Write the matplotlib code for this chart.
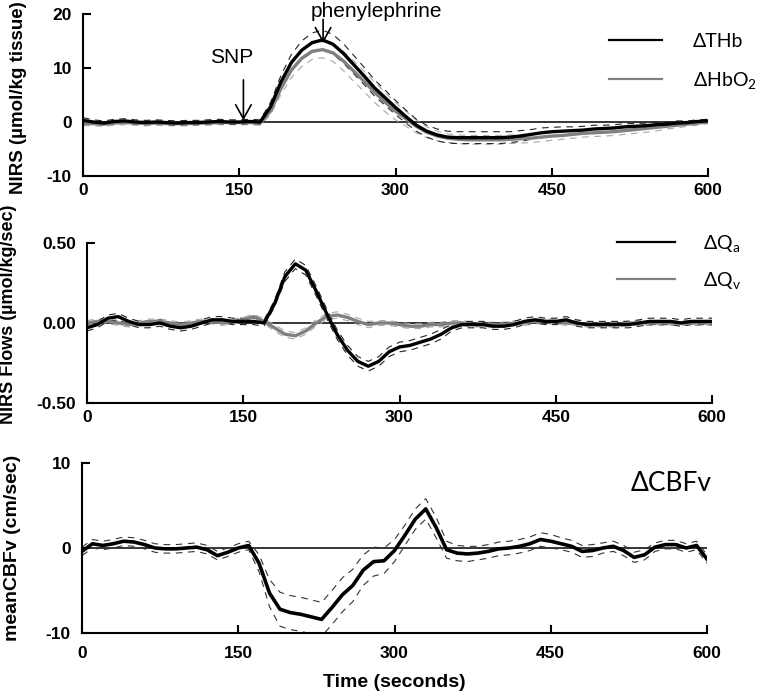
import matplotlib
matplotlib.use("Agg")
import matplotlib.pyplot as plt
import numpy as np

plt.rcParams['font.family'] = ['Liberation Sans', 'DejaVu Sans']
plt.rcParams['axes.unicode_minus'] = False
plt.rcParams['mathtext.default'] = 'regular'

# time axis (seconds), one value every 10 s
time = np.arange(0, 601, 10)

# NIRS: change in total haemoglobin and oxyhaemoglobin
thb = [0.3, 0.0, -0.2, 0.1, 0.2, 0.0, -0.1, 0.0, -0.1, -0.2,
       -0.1, -0.1, 0.0, 0.1, 0.0, 0.0, 0.1, 0.0, 2.8, 7.4,
       11.0, 13.3, 14.7, 15.2, 14.4, 12.7, 10.6, 8.5, 6.3, 4.5,
       2.7, 1.0, -0.6, -1.7, -2.4, -2.8, -2.9, -2.9, -2.9, -2.9,
       -2.9, -2.8, -2.6, -2.3, -2.0, -1.8, -1.7, -1.6, -1.5, -1.3,
       -1.2, -1.1, -0.9, -0.8, -0.7, -0.5, -0.4, -0.2, -0.1, 0.1,
       0.2]
thb_se = [0.5, 0.4, 0.4, 0.4, 0.4, 0.4, 0.4, 0.4, 0.4, 0.4,
          0.4, 0.4, 0.4, 0.4, 0.4, 0.4, 0.4, 0.4, 0.8, 1.2,
          1.5, 1.7, 1.8, 1.8, 1.8, 1.8, 1.7, 1.6, 1.5, 1.4,
          1.3, 1.2, 1.1, 1.1, 1.1, 1.1, 1.1, 1.1, 1.1, 1.1,
          1.1, 1.0, 1.0, 0.9, 0.9, 0.8, 0.8, 0.7, 0.7, 0.7,
          0.6, 0.6, 0.6, 0.5, 0.5, 0.5, 0.4, 0.4, 0.3, 0.3,
          0.3]
hbo2 = [-0.3, -0.3, -0.4, -0.2, -0.1, -0.2, -0.3, -0.2, -0.3, -0.3,
        -0.3, -0.2, -0.2, -0.1, -0.1, -0.1, -0.1, -0.2, 2.0, 6.2,
        9.6, 11.8, 13.1, 13.4, 12.8, 11.3, 9.4, 7.5, 5.5, 3.7,
        2.0, 0.6, -0.8, -1.9, -2.6, -3.0, -3.2, -3.3, -3.3, -3.3,
        -3.3, -3.2, -3.1, -3.0, -2.8, -2.6, -2.5, -2.3, -2.1, -2.0,
        -1.9, -1.8, -1.6, -1.4, -1.2, -1.0, -0.8, -0.6, -0.4, -0.2,
        0.0]
hbo2_se = [0.4, 0.4, 0.4, 0.4, 0.4, 0.4, 0.4, 0.4, 0.4, 0.4,
           0.4, 0.4, 0.4, 0.4, 0.4, 0.4, 0.4, 0.4, 0.7, 1.1,
           1.4, 1.5, 1.5, 1.5, 1.6, 1.8, 1.9, 1.9, 1.9, 1.8,
           1.6, 1.4, 1.2, 1.0, 0.9, 0.8, 0.8, 0.8, 0.8, 0.8,
           0.8, 0.8, 0.8, 0.8, 0.8, 0.8, 0.7, 0.7, 0.7, 0.7,
           0.7, 0.7, 0.7, 0.7, 0.7, 0.7, 0.5, 0.5, 0.4, 0.4,
           0.3]

# NIRS flows: arterial and venous
qa = [-0.03, -0.01, 0.03, 0.04, 0.01, -0.01, -0.01, 0.00, -0.02, -0.03,
      -0.02, 0.00, 0.02, 0.02, 0.01, 0.01, 0.01, 0.00, 0.12, 0.29,
      0.37, 0.33, 0.20, 0.06, -0.07, -0.17, -0.24, -0.27, -0.24, -0.18,
      -0.15, -0.14, -0.12, -0.10, -0.07, -0.03, -0.01, -0.01, -0.01, -0.02,
      -0.02, -0.01, 0.01, 0.02, 0.01, 0.01, 0.02, 0.00, -0.01, -0.01,
      -0.01, -0.01, -0.01, 0.00, 0.01, 0.01, 0.01, 0.00, 0.01, 0.01,
      0.01]
qa_se = [0.02, 0.02, 0.02, 0.02, 0.02, 0.02, 0.02, 0.02, 0.02, 0.02,
         0.02, 0.02, 0.02, 0.02, 0.02, 0.02, 0.02, 0.02, 0.02, 0.03,
         0.03, 0.03, 0.03, 0.03, 0.03, 0.03, 0.03, 0.03, 0.03, 0.03,
         0.03, 0.03, 0.03, 0.03, 0.03, 0.02, 0.02, 0.02, 0.02, 0.02,
         0.02, 0.02, 0.02, 0.02, 0.02, 0.02, 0.02, 0.02, 0.02, 0.02,
         0.02, 0.02, 0.02, 0.02, 0.02, 0.02, 0.02, 0.02, 0.02, 0.02,
         0.02]
qv = [0.00, 0.01, 0.01, 0.00, -0.01, 0.00, 0.01, 0.01, 0.00, -0.01,
      0.00, 0.01, 0.01, 0.00, 0.01, 0.02, 0.04, 0.01, -0.03, -0.07,
      -0.08, -0.05, 0.00, 0.04, 0.05, 0.035, 0.01, -0.01, 0.00, 0.00,
      -0.01, -0.02, -0.02, -0.01, -0.01, 0.00, 0.00, -0.01, -0.01, -0.01,
      -0.01, 0.00, 0.00, 0.01, 0.01, 0.01, 0.00, 0.00, -0.01, -0.01,
      -0.01, -0.01, 0.00, 0.00, 0.00, 0.00, 0.00, 0.00, 0.00, 0.00,
      0.00]
qv_se = [0.015, 0.015, 0.015, 0.015, 0.015, 0.015, 0.015, 0.015, 0.015, 0.015,
         0.015, 0.015, 0.015, 0.015, 0.015, 0.015, 0.015, 0.015, 0.02, 0.02,
         0.02, 0.02, 0.02, 0.02, 0.02, 0.02, 0.02, 0.02, 0.015, 0.015,
         0.015, 0.015, 0.015, 0.015, 0.015, 0.015, 0.015, 0.015, 0.015, 0.015,
         0.015, 0.015, 0.015, 0.015, 0.015, 0.015, 0.015, 0.015, 0.015, 0.015,
         0.015, 0.015, 0.015, 0.015, 0.015, 0.015, 0.015, 0.015, 0.015, 0.015,
         0.015]

# transcranial doppler: mean cerebral blood flow velocity
cbfv = [-0.4, 0.5, 0.3, 0.5, 0.8, 0.7, 0.4, 0.0, -0.1, -0.1,
        0.0, 0.1, -0.2, -0.9, -0.5, 0.0, 0.3, -1.8, -5.3, -7.2,
        -7.6, -7.8, -8.1, -8.4, -7.0, -5.5, -4.4, -2.6, -1.6, -1.5,
        -0.3, 1.5, 3.4, 4.6, 2.4, -0.2, -0.6, -0.7, -0.6, -0.4,
        -0.1, 0.0, 0.2, 0.5, 1.0, 0.8, 0.5, 0.2, -0.4, -0.3,
        0.0, 0.2, -0.3, -1.1, -0.8, 0.1, 0.4, 0.4, 0.0, 0.3,
        -1.3]
cbfv_se = [0.5, 0.5, 0.5, 0.5, 0.5, 0.5, 0.5, 0.5, 0.5, 0.5,
           0.5, 0.5, 0.5, 0.5, 0.5, 0.5, 0.5, 1.0, 1.6, 2.0,
           2.0, 2.0, 2.0, 2.0, 2.0, 2.0, 1.9, 1.8, 1.7, 1.5,
           1.3, 1.2, 1.2, 1.2, 1.2, 1.0, 0.9, 0.9, 0.8, 0.8,
           0.8, 0.8, 0.8, 0.8, 0.8, 0.8, 0.7, 0.7, 0.7, 0.7,
           0.6, 0.6, 0.6, 0.6, 0.6, 0.5, 0.5, 0.5, 0.5, 0.5,
           0.5]

xticks = [0, 150, 300, 450, 600]

W, H = 763, 692
fig = plt.figure(figsize=(W / 100, H / 100), dpi=100)


def px_axes(left, top, right, bottom):
    return fig.add_axes([left / W, 1 - bottom / H, (right - left) / W, (bottom - top) / H])


def style(ax, ylim, yticks, ylabels, xpad):
    ax.set_xlim(0, 600)
    ax.set_ylim(*ylim)
    ax.set_xticks(xticks)
    ax.set_yticks(yticks)
    ax.set_yticklabels(ylabels)
    for s in ['top', 'right']:
        ax.spines[s].set_visible(False)
    for s in ['left', 'bottom']:
        ax.spines[s].set_linewidth(1.5)
    ax.tick_params(axis='both', direction='in', length=5.5, width=1.5, labelsize=12.5)
    ax.tick_params(axis='x', pad=xpad)
    ax.tick_params(axis='y', pad=8)
    for lab in ax.get_xticklabels() + ax.get_yticklabels():
        lab.set_fontweight('bold')
    ax.axhline(0, color='black', lw=1.1, zorder=1)
    ax.patch.set_visible(False)


def band(ax, y, se, color, lw=0.8):
    y = np.array(y)
    se = np.array(se)
    ax.plot(time, y + se, color=color, lw=lw, ls=(0, (6, 5)))
    ax.plot(time, y - se, color=color, lw=lw, ls=(0, (6, 5)))


legend_font = {'family': ['Lato', 'DejaVu Sans'], 'size': 14}
arrow = dict(arrowstyle='->,head_length=0.5,head_width=0.28', color='black',
             lw=1.2, shrinkA=0, shrinkB=0, mutation_scale=20)

# --- top panel: NIRS haemoglobin ---
ax1 = px_axes(83, 14, 708, 176)
style(ax1, (-10, 20), [-10, 0, 10, 20], ['-10', '0', '10', '20'], 5)
band(ax1, hbo2, hbo2_se, '#a8a8a8')
band(ax1, thb, thb_se, '#222222')
l_hbo2, = ax1.plot(time, hbo2, color='#808080', lw=2.4)
l_thb, = ax1.plot(time, thb, color='black', lw=2.4)
leg1 = ax1.legend([l_thb, l_hbo2], ['ΔTHb', 'ΔHbO$_2$'], loc='upper left',
                  bbox_to_anchor=(0.842, 0.885), frameon=False, prop=legend_font,
                  handlelength=2.7, handletextpad=1.6, labelspacing=1.05,
                  borderpad=0, borderaxespad=0)
for h in leg1.legend_handles:
    h.set_linewidth(1.6)

ax1.annotate('', xy=(154, 0.3), xytext=(154, 7.8), arrowprops=arrow)
ax1.text(143, 11.9, 'SNP', ha='center', va='center', fontsize=15)
ax1.annotate('', xy=(230.5, 14.6), xytext=(230.5, 19.0), annotation_clip=False,
             arrowprops=arrow)
ax1.text(282, 20.4, 'phenylephrine', ha='center', va='center', fontsize=15)

# --- middle panel: NIRS flows ---
ax2 = px_axes(87, 243, 712, 403)
style(ax2, (-0.5, 0.5), [-0.5, 0, 0.5], ['-0.50', '0.00', '0.50'], 5)
band(ax2, qv, qv_se, '#a8a8a8')
band(ax2, qa, qa_se, '#222222')
l_qv, = ax2.plot(time, qv, color='#808080', lw=2.4)
l_qa, = ax2.plot(time, qa, color='black', lw=2.4)
leg2 = ax2.legend([l_qa, l_qv], ['ΔQ$_a$', 'ΔQ$_v$'], loc='upper left',
                  bbox_to_anchor=(0.848, 1.065), frameon=False, prop=legend_font,
                  handlelength=3.0, handletextpad=1.4, labelspacing=0.85,
                  borderpad=0, borderaxespad=0)
for h in leg2.legend_handles:
    h.set_linewidth(1.6)

# --- bottom panel: CBFv ---
ax3 = px_axes(82, 463, 707, 633)
style(ax3, (-10, 10), [-10, 0, 10], ['-10', '0', '10'], 9)
band(ax3, cbfv, cbfv_se, '#333333')
ax3.plot(time, cbfv, color='black', lw=2.6)
ax3.text(566, 7.6, 'ΔCBFv', ha='center', va='center',
         family=['Lato', 'DejaVu Sans'], fontsize=19)
ax3.set_xlabel('Time (seconds)', fontsize=14, fontweight='bold', labelpad=10)

# y axis titles
fig.text(19 / W, 1 - 98 / H, 'NIRS (µmol/kg tissue)', rotation=90, ha='center',
         va='center', fontsize=13.5, fontweight='bold')
fig.text(9 / W, 1 - 314 / H, 'NIRS Flows (µmol/kg/sec)', rotation=90, ha='center',
         va='center', fontsize=13, fontweight='bold')
fig.text(13 / W, 1 - 548 / H, 'meanCBFv (cm/sec)', rotation=90, ha='center',
         va='center', fontsize=14, fontweight='bold')

fig.savefig('out.png', dpi=100)
